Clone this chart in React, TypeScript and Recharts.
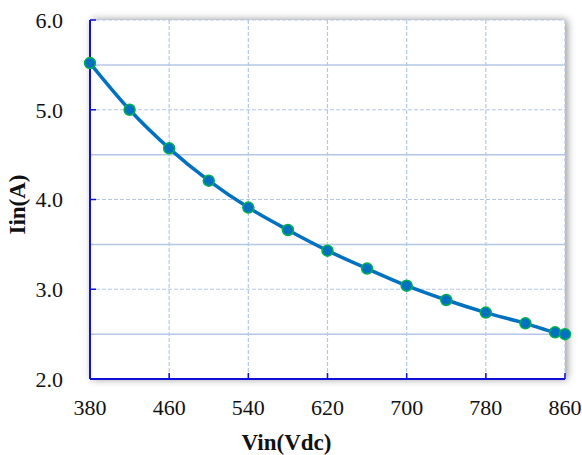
import { CartesianGrid, Line, LineChart, ReferenceLine, XAxis, YAxis } from 'recharts';

const vin = [380, 420, 460, 500, 540, 580, 620, 660, 700, 740, 780, 820, 850, 860];
const iin = [5.52, 5.0, 4.57, 4.21, 3.91, 3.66, 3.43, 3.23, 3.04, 2.88, 2.74, 2.62, 2.52, 2.5];

const xTicks = [380, 460, 540, 620, 700, 780, 860];
const yTicks = [2, 3, 4, 5, 6];
const yMinor = [2.5, 3.5, 4.5, 5.5];

const data = vin.map((v, i) => ({ vin: v, iin: iin[i] }));

const font = 'Liberation Serif, Times New Roman, serif';
const gridColor = '#b4c7e7';
const axisColor = '#1010d8';

const XTick = (props: any) => (
    <text x={props.x} y={props.y} dy="0.71em" textAnchor="middle" fill="#111" fontSize={22} fontFamily={font}>
        {props.payload.value}
    </text>
);

const YTick = (props: any) => (
    <text x={props.x} y={props.y} dy="0.36em" textAnchor="end" fill="#111" fontSize={22} fontFamily={font}>
        {Number(props.payload.value).toFixed(1)}
    </text>
);

const App = () => {
    return (
        <div style={{ position: 'absolute', left: 0, top: 0, width: 582, height: 455, background: '#fff', fontFamily: font }}>
            <div
                style={{
                    position: 'absolute',
                    left: 90,
                    top: 20,
                    width: 475,
                    height: 359,
                    background: '#fff',
                    boxShadow: '2px 0px 8px rgba(0,0,0,0.45)',
                }}
            />
            <LineChart
                width={582}
                height={455}
                data={data}
                margin={{ top: 20, right: 17, left: 0, bottom: 0 }}
                style={{ position: 'absolute', left: 0, top: 0, fontFamily: font }}
            >
                <CartesianGrid stroke={gridColor} strokeDasharray="4 2" strokeWidth={1.2} />
                {yMinor.map((y) => (
                    <ReferenceLine key={y} y={y} stroke={gridColor} strokeWidth={1.5} />
                ))}
                <XAxis
                    dataKey="vin"
                    type="number"
                    domain={[380, 860]}
                    ticks={xTicks}
                    height={76}
                    stroke={axisColor}
                    axisLine={{ stroke: axisColor, strokeWidth: 2 }}
                    tickLine={{ stroke: axisColor, strokeWidth: 1.5 }}
                    tickSize={-6}
                    tickMargin={26}
                    tick={XTick}
                    label={{
                        value: 'Vin(Vdc)',
                        position: 'center',
                        dx: -41,
                        dy: 25,
                        style: { fill: '#111', fontSize: 23, fontWeight: 'bold', fontFamily: font },
                    }}
                />
                <YAxis
                    type="number"
                    domain={[2, 6]}
                    ticks={yTicks}
                    width={90}
                    stroke={axisColor}
                    axisLine={{ stroke: axisColor, strokeWidth: 2 }}
                    tickLine={{ stroke: axisColor, strokeWidth: 1.5 }}
                    tickSize={-6}
                    tickMargin={33}
                    tick={YTick}
                    label={{
                        value: 'Iin(A)',
                        angle: -90,
                        position: 'center',
                        dx: -28,
                        dy: 5,
                        style: { fill: '#111', fontSize: 23, fontWeight: 'bold', fontFamily: font },
                    }}
                />
                <Line
                    type="monotone"
                    dataKey="iin"
                    stroke="#0070c0"
                    strokeWidth={3.5}
                    dot={{ r: 5.5, fill: '#0070c0', stroke: '#00b050', strokeWidth: 1.5 }}
                    isAnimationActive={false}
                />
            </LineChart>
        </div>
    );
};

export default App;
